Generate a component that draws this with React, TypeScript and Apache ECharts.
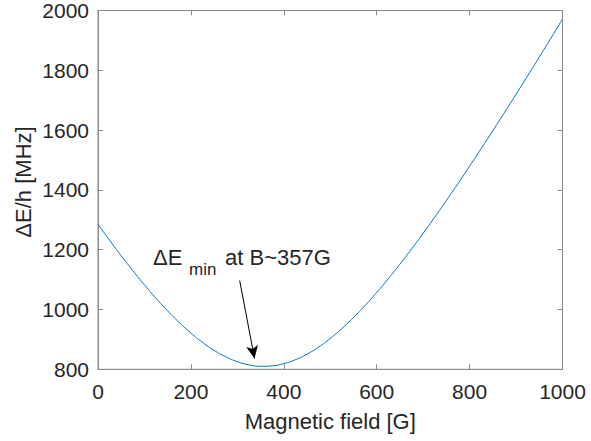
import React, { useEffect, useRef } from "react";
import * as echarts from "echarts";

// Magnetic field [G]
const fieldValues = [
  0, 25, 50, 75, 100, 125, 150, 175, 200, 225, 250, 275, 300, 325, 350, 375,
  400, 425, 450, 475, 500, 525, 550, 575, 600, 625, 650, 675, 700, 725, 750,
  775, 800, 825, 850, 875, 900, 925, 950, 975, 1000,
];
// ΔE/h [MHz]
const deltaE = [
  1285, 1231.5, 1179.8, 1130.0, 1082.4, 1037.4, 995.3, 956.4, 921.2, 890.0,
  863.4, 841.8, 825.5, 814.9, 810.2, 811.6, 818.9, 832.0, 850.7, 874.5, 903.2,
  936.2, 973.1, 1013.5, 1056.9, 1103.1, 1151.6, 1202.3, 1254.8, 1308.9,
  1364.5, 1421.3, 1479.2, 1538.1, 1598.0, 1658.5, 1719.8, 1781.7, 1844.2,
  1907.2, 1971.5,
];
// annotation arrow, data coordinates
const arrowStart = [305, 1097];
const arrowEnd = [337, 836];
const xTitle = "Magnetic field [G]";
const yTitle = "ΔE/h [MHz]";

const FONT = "'Liberation Sans', Arial, Helvetica, sans-serif";
const AXIS = "#8a8a8a";
const TEXT = "#262626";

export default function App() {
  const ref = useRef<HTMLDivElement>(null);
  useEffect(() => {
    if (!ref.current) return;
    const chart = echarts.init(ref.current, null, { renderer: "svg" });
    const common = {
      type: "value" as const,
      splitLine: { show: false },
      axisLine: { show: true, onZero: false, lineStyle: { color: AXIS, width: 1 } },
      axisTick: { show: true, inside: true, length: 5, lineStyle: { color: AXIS } },
    };
    const plain = (v: number) => String(v);
    chart.setOption({
      animation: false,
      backgroundColor: "#ffffff",
      textStyle: { fontFamily: FONT },
      grid: {
        left: 98,
        right: 28.5,
        top: 10,
        bottom: 71.7,
        containLabel: false,
        show: true,
        borderColor: AXIS,
        borderWidth: 1,
      },
      xAxis: [
        {
          ...common,
          min: 0,
          max: 1000,
          interval: 200,
          position: "bottom",
          axisLabel: { fontSize: 21, color: TEXT, margin: 12, fontFamily: FONT, formatter: plain },
          name: xTitle,
          nameLocation: "middle",
          nameGap: 41,
          nameTextStyle: { fontSize: 22, color: TEXT, fontFamily: FONT },
        },
        {
          ...common,
          min: 0,
          max: 1000,
          interval: 200,
          position: "top",
          axisLabel: { show: false },
        },
      ],
      yAxis: [
        {
          ...common,
          min: 800,
          max: 2000,
          interval: 200,
          position: "left",
          axisLabel: { fontSize: 21, color: TEXT, margin: 9, fontFamily: FONT, formatter: plain },
        },
        {
          ...common,
          min: 800,
          max: 2000,
          interval: 200,
          position: "right",
          axisLabel: { show: false },
        },
      ],
      series: [
        {
          type: "line",
          xAxisIndex: 0,
          yAxisIndex: 0,
          data: fieldValues.map((x, i) => [x, deltaE[i]]),
          showSymbol: false,
          smooth: true,
          lineStyle: { color: "#0072BD", width: 1 },
          markLine: {
            silent: true,
            symbol: ["none", "arrow"],
            symbolSize: [9, 13],
            label: { show: false },
            lineStyle: { color: "#000000", width: 1, type: "solid" },
            data: [[{ coord: arrowStart }, { coord: arrowEnd }]],
          },
        },
        {
          type: "line",
          xAxisIndex: 1,
          yAxisIndex: 1,
          data: [],
          silent: true,
        },
      ],
      graphic: [
        {
          type: "text",
          x: 23,
          y: 182,
          rotation: Math.PI / 2,
          style: {
            text: yTitle,
            fontSize: 22,
            fontFamily: FONT,
            fill: TEXT,
            align: "center",
            verticalAlign: "middle",
          },
        },
        {
          type: "text",
          x: 153,
          y: 257,
          style: {
            text: "ΔE",
            fontSize: 22,
            fontFamily: FONT,
            fill: TEXT,
            align: "left",
            verticalAlign: "middle",
          },
        },
        {
          type: "text",
          x: 189,
          y: 269,
          style: {
            text: "min",
            fontSize: 17,
            fontFamily: FONT,
            fill: TEXT,
            align: "left",
            verticalAlign: "middle",
          },
        },
        {
          type: "text",
          x: 225,
          y: 257,
          style: {
            text: "at B~357G",
            fontSize: 22,
            fontFamily: FONT,
            fill: TEXT,
            align: "left",
            verticalAlign: "middle",
          },
        },
      ],
    });
    return () => chart.dispose();
  }, []);
  return (
    <div
      ref={ref}
      style={{ position: "absolute", left: 0, top: 0, width: 591, height: 441 }}
    />
  );
}
